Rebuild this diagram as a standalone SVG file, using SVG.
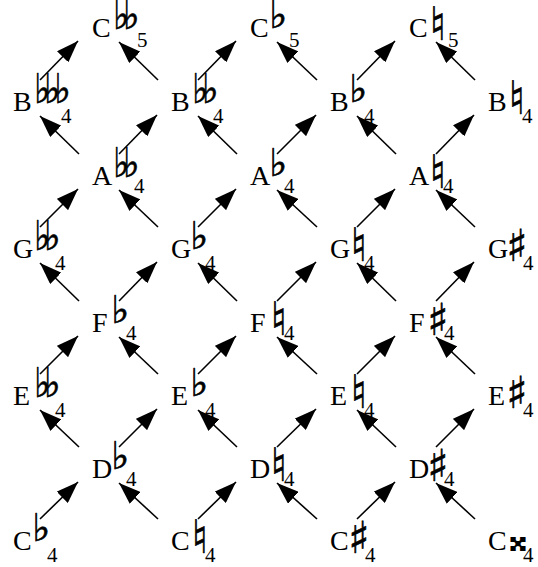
<svg xmlns="http://www.w3.org/2000/svg" width="538" height="567" viewBox="0 0 538 567">
<style>
.lbl{font-family:"Liberation Serif","Times New Roman",serif;font-size:28px;fill:#000}
.fl{font-family:"DejaVu Sans",sans-serif;font-size:41px;letter-spacing:-7.3px;stroke:#000;stroke-width:0.7}
.f1{font-family:"DejaVu Sans",sans-serif;font-size:38px;stroke:#000;stroke-width:0.7}
.nt{font-family:"DejaVu Sans",sans-serif;font-size:46px;stroke:#000;stroke-width:0.6}
.sh{font-family:"DejaVu Sans",sans-serif;font-size:44px;stroke:#000;stroke-width:0.6}
.dx{font-family:"DejaVu Sans",sans-serif;font-size:40px}
.sub{font-family:"Liberation Serif","Times New Roman",serif;font-size:21px;stroke:none;letter-spacing:0}
#edges line{stroke:#000;stroke-width:1.6;marker-end:url(#ah)}
</style>
<defs>
<marker id="ah" markerUnits="userSpaceOnUse" markerWidth="22" markerHeight="16" refX="22" refY="8" orient="auto" viewBox="0 0 22 16">
<path d="M0,0 L22,8 L0,16 z" fill="#000"/>
</marker>
</defs>
<rect width="538" height="567" fill="#fff"/>
<g id="edges">
<line x1="40" y1="80" x2="78" y2="41"/>
<line x1="158" y1="80" x2="119" y2="42"/>
<line x1="198" y1="80" x2="236" y2="41"/>
<line x1="317" y1="80" x2="277" y2="42"/>
<line x1="357" y1="80" x2="395" y2="41"/>
<line x1="475" y1="80" x2="436" y2="42"/>
<line x1="79" y1="154" x2="40" y2="116"/>
<line x1="119" y1="154" x2="157" y2="115"/>
<line x1="237" y1="154" x2="198" y2="116"/>
<line x1="277" y1="154" x2="316" y2="115"/>
<line x1="396" y1="154" x2="357" y2="116"/>
<line x1="436" y1="154" x2="474" y2="115"/>
<line x1="40" y1="227" x2="78" y2="189"/>
<line x1="158" y1="227" x2="119" y2="190"/>
<line x1="198" y1="227" x2="236" y2="189"/>
<line x1="317" y1="227" x2="277" y2="190"/>
<line x1="357" y1="227" x2="395" y2="189"/>
<line x1="475" y1="227" x2="436" y2="190"/>
<line x1="79" y1="301" x2="40" y2="263"/>
<line x1="119" y1="301" x2="157" y2="262"/>
<line x1="237" y1="301" x2="198" y2="263"/>
<line x1="277" y1="301" x2="316" y2="262"/>
<line x1="396" y1="301" x2="357" y2="263"/>
<line x1="436" y1="301" x2="474" y2="262"/>
<line x1="40" y1="374" x2="78" y2="336"/>
<line x1="158" y1="374" x2="119" y2="337"/>
<line x1="198" y1="374" x2="236" y2="336"/>
<line x1="317" y1="374" x2="277" y2="337"/>
<line x1="357" y1="374" x2="395" y2="336"/>
<line x1="475" y1="374" x2="436" y2="337"/>
<line x1="79" y1="447" x2="40" y2="410"/>
<line x1="119" y1="447" x2="157" y2="409"/>
<line x1="237" y1="447" x2="198" y2="410"/>
<line x1="277" y1="447" x2="316" y2="409"/>
<line x1="396" y1="447" x2="357" y2="410"/>
<line x1="436" y1="447" x2="474" y2="409"/>
<line x1="40" y1="519" x2="78" y2="482"/>
<line x1="158" y1="519" x2="119" y2="483"/>
<line x1="198" y1="519" x2="236" y2="482"/>
<line x1="317" y1="519" x2="277" y2="483"/>
<line x1="357" y1="519" x2="395" y2="482"/>
<line x1="475" y1="519" x2="436" y2="483"/>
</g>
<g id="n-Cbb5"><text class="lbl" x="92" y="37">C<tspan class="fl" x="113" y="29" textLength="20.2" lengthAdjust="spacingAndGlyphs">♭♭</tspan><tspan class="sub" x="137" y="47">5</tspan></text></g>
<g id="n-Cb5"><text class="lbl" x="250" y="37">C<tspan class="f1" x="269.5" y="28">♭</tspan><tspan class="sub" x="289" y="47">5</tspan></text></g>
<g id="n-Cn5"><text class="lbl" x="409" y="37">C<tspan class="nt" x="429.5" y="40">♮</tspan><tspan class="sub" x="448" y="47">5</tspan></text></g>
<g id="n-Bbbb4"><text class="lbl" x="13" y="111">B<tspan class="fl" x="34" y="103" textLength="30.3" lengthAdjust="spacingAndGlyphs">♭♭♭</tspan><tspan class="sub" x="61" y="123">4</tspan></text></g>
<g id="n-Bbb4"><text class="lbl" x="171" y="111">B<tspan class="fl" x="192" y="103" textLength="20.2" lengthAdjust="spacingAndGlyphs">♭♭</tspan><tspan class="sub" x="213" y="123">4</tspan></text></g>
<g id="n-Bb4"><text class="lbl" x="330" y="111">B<tspan class="f1" x="349.5" y="102">♭</tspan><tspan class="sub" x="364" y="123">4</tspan></text></g>
<g id="n-Bn4"><text class="lbl" x="488" y="111">B<tspan class="nt" x="508.5" y="114">♮</tspan><tspan class="sub" x="522" y="123">4</tspan></text></g>
<g id="n-Abb4"><text class="lbl" x="92" y="185">A<tspan class="fl" x="113" y="177" textLength="20.2" lengthAdjust="spacingAndGlyphs">♭♭</tspan><tspan class="sub" x="134" y="193">4</tspan></text></g>
<g id="n-Ab4"><text class="lbl" x="250" y="185">A<tspan class="f1" x="269.5" y="176">♭</tspan><tspan class="sub" x="284" y="193">4</tspan></text></g>
<g id="n-An4"><text class="lbl" x="409" y="185">A<tspan class="nt" x="429.5" y="188">♮</tspan><tspan class="sub" x="443" y="193">4</tspan></text></g>
<g id="n-Gbb4"><text class="lbl" x="13" y="258">G<tspan class="fl" x="34" y="250" textLength="20.2" lengthAdjust="spacingAndGlyphs">♭♭</tspan><tspan class="sub" x="55" y="270">4</tspan></text></g>
<g id="n-Gb4"><text class="lbl" x="171" y="258">G<tspan class="f1" x="190.5" y="249">♭</tspan><tspan class="sub" x="205" y="270">4</tspan></text></g>
<g id="n-Gn4"><text class="lbl" x="330" y="258">G<tspan class="nt" x="350.5" y="261">♮</tspan><tspan class="sub" x="364" y="270">4</tspan></text></g>
<g id="n-Gs4"><text class="lbl" x="488" y="258">G<tspan class="sh" x="506" y="261">♯</tspan><tspan class="sub" x="523" y="270">4</tspan></text></g>
<g id="n-Fb4"><text class="lbl" x="92" y="332">F<tspan class="f1" x="111.5" y="323">♭</tspan><tspan class="sub" x="126" y="340">4</tspan></text></g>
<g id="n-Fn4"><text class="lbl" x="250" y="332">F<tspan class="nt" x="270.5" y="335">♮</tspan><tspan class="sub" x="284" y="340">4</tspan></text></g>
<g id="n-Fs4"><text class="lbl" x="409" y="332">F<tspan class="sh" x="427" y="335">♯</tspan><tspan class="sub" x="444" y="340">4</tspan></text></g>
<g id="n-Ebb4"><text class="lbl" x="13" y="405">E<tspan class="fl" x="34" y="397" textLength="20.2" lengthAdjust="spacingAndGlyphs">♭♭</tspan><tspan class="sub" x="55" y="417">4</tspan></text></g>
<g id="n-Eb4"><text class="lbl" x="171" y="405">E<tspan class="f1" x="190.5" y="396">♭</tspan><tspan class="sub" x="205" y="417">4</tspan></text></g>
<g id="n-En4"><text class="lbl" x="330" y="405">E<tspan class="nt" x="350.5" y="408">♮</tspan><tspan class="sub" x="364" y="417">4</tspan></text></g>
<g id="n-Es4"><text class="lbl" x="488" y="405">E<tspan class="sh" x="506" y="408">♯</tspan><tspan class="sub" x="523" y="417">4</tspan></text></g>
<g id="n-Db4"><text class="lbl" x="92" y="478">D<tspan class="f1" x="111.5" y="469">♭</tspan><tspan class="sub" x="126" y="486">4</tspan></text></g>
<g id="n-Dn4"><text class="lbl" x="250" y="478">D<tspan class="nt" x="270.5" y="481">♮</tspan><tspan class="sub" x="284" y="486">4</tspan></text></g>
<g id="n-Ds4"><text class="lbl" x="409" y="478">D<tspan class="sh" x="427" y="481">♯</tspan><tspan class="sub" x="444" y="486">4</tspan></text></g>
<g id="n-Cb4"><text class="lbl" x="13" y="550">C<tspan class="f1" x="32.5" y="541">♭</tspan><tspan class="sub" x="47" y="562">4</tspan></text></g>
<g id="n-Cn4"><text class="lbl" x="171" y="550">C<tspan class="nt" x="191.5" y="553">♮</tspan><tspan class="sub" x="205" y="562">4</tspan></text></g>
<g id="n-Cs4"><text class="lbl" x="330" y="550">C<tspan class="sh" x="348" y="553">♯</tspan><tspan class="sub" x="365" y="562">4</tspan></text></g>
<g id="n-Cx4"><text class="lbl" x="488" y="550">C<tspan class="dx" x="509" y="551">𝄪</tspan><tspan class="sub" x="523" y="562">4</tspan></text></g>
</svg>
